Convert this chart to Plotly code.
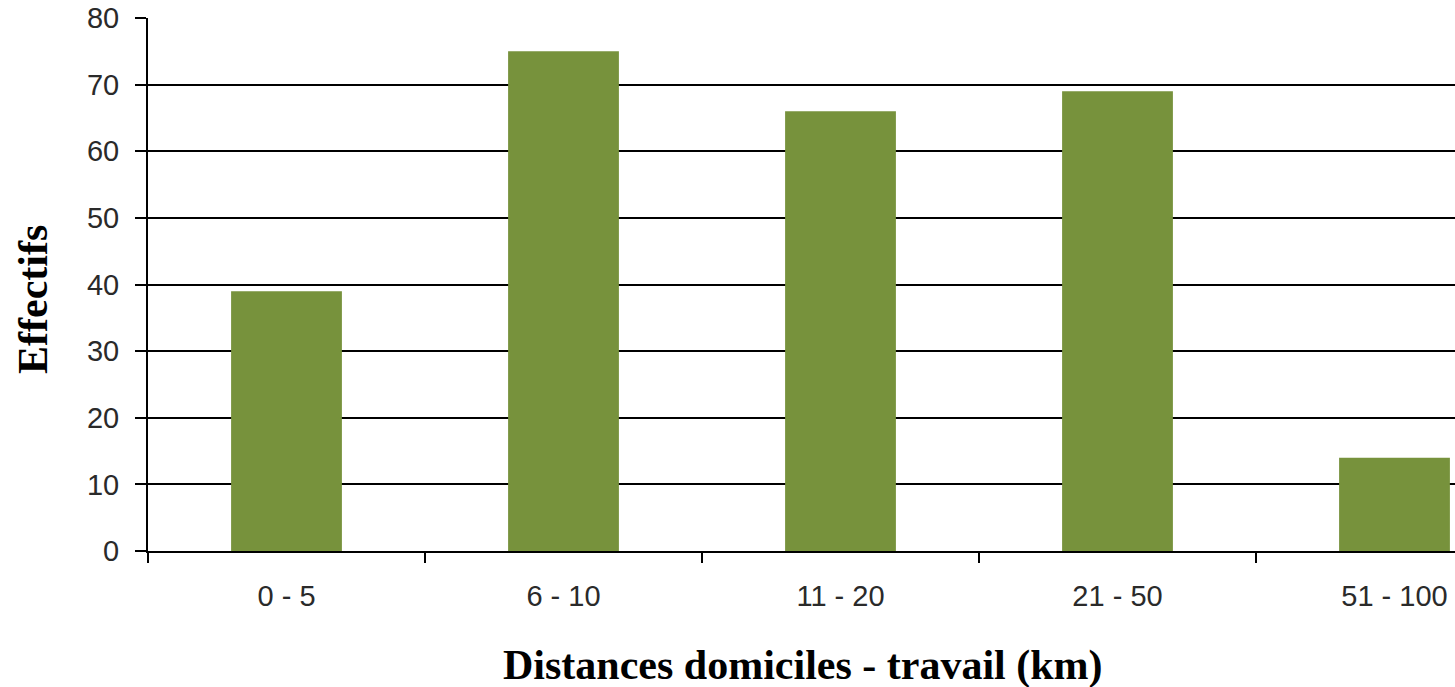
import plotly.graph_objects as go

categories = ["0 - 5", "6 - 10", "11 - 20", "21 - 50", "51 - 100"]
effectifs = [39, 75, 66, 69, 14]
y_ticks = [0, 10, 20, 30, 40, 50, 60, 70, 80]

W, H = 1455, 687
L, T, B = 148, 18, 136
cat_px = 277.0
x_max = -0.5 + (W - L) / cat_px

fig = go.Figure(go.Bar(
    x=categories, y=effectifs,
    marker=dict(color="#77923C", line=dict(width=0)),
))

tickfont = dict(family="Liberation Sans", size=29, color="#2a2a2a")
fig.update_layout(
    width=W, height=H,
    margin=dict(l=L, r=0, t=T, b=B),
    paper_bgcolor="white", plot_bgcolor="white",
    bargap=0.6, showlegend=False,
    xaxis=dict(
        type="category", range=[-0.5, x_max],
        showgrid=False, showline=True, linecolor="black", linewidth=2,
        ticks="outside", tickson="boundaries", ticklen=10, tickcolor="black", tickwidth=2,
        tickfont=tickfont, automargin=False, ticklabelstandoff=18,
    ),
    yaxis=dict(
        range=[0, 80], tickvals=y_ticks,
        showgrid=True, gridcolor="black", gridwidth=2,
        showline=True, linecolor="black", linewidth=2,
        ticks="outside", ticklen=11, tickcolor="black", tickwidth=2,
        tickfont=tickfont, zeroline=False, automargin=False, ticklabelstandoff=10,
    ),
    annotations=[
        dict(text="<b>Distances domiciles - travail (km)</b>", xref="paper", yref="paper",
             x=(803 - L) / (W - L), y=-(665 - (H - B)) / (H - T - B),
             xanchor="center", yanchor="middle", showarrow=False,
             font=dict(family="Liberation Serif", size=42, color="black")),
        dict(text="<b>Effectifs</b>", xref="paper", yref="paper",
             x=(33 - L) / (W - L), y=1 - (300 - T) / (H - T - B),
             xanchor="center", yanchor="middle", showarrow=False, textangle=-90,
             font=dict(family="Liberation Serif", size=42, color="black")),
    ],
)

fig.write_html(
    "out.html",
    config={"displayModeBar": False},
    post_script="document.body.style.margin='0';document.body.style.overflow='hidden';",
)
